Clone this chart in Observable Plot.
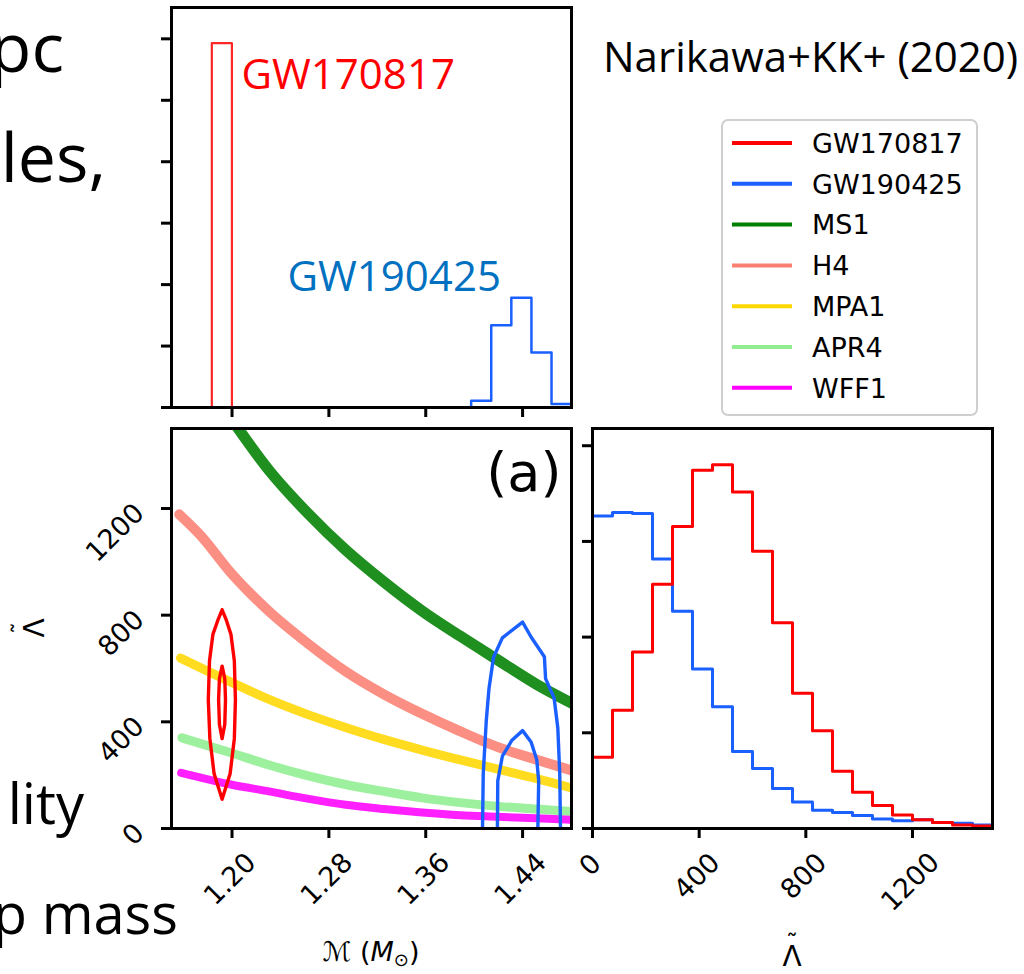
<!DOCTYPE html>
<html><head><meta charset="utf-8">
<script src="https://cdn.jsdelivr.net/npm/d3@7"></script>
<script src="https://cdn.jsdelivr.net/npm/@observablehq/plot@0.6"></script>
<style>
html,body{margin:0;padding:0;background:#fff;}
#root{position:relative;width:1024px;height:974px;overflow:hidden;background:#fff;}
#root svg{position:absolute;left:0;top:0;}
</style></head><body><div id="root"></div>
<script>
// ---------------- data ----------------
const mcTicks = [1.20, 1.28, 1.36, 1.44];
const lamTicks = [0, 400, 800, 1200];
const topCountTicks = [0, 1, 2, 3, 4, 5, 6];
const rightCountTicks = [0, 1, 2, 3, 4];

// chirp-mass histograms (top panel)
const mcEdgesGW170817 = [1.1833, 1.1999];
const mcCountsGW170817 = [5.93];
const mcEdgesGW190425 = [1.3975, 1.4141, 1.4307, 1.4473, 1.4639, 1.4805];
const mcCountsGW190425 = [0.11, 1.34, 1.785, 0.895, 0.055];

// Lambda-tilde histograms (right panel)
const lamEdges = [0, 75, 150, 225, 300, 375, 450, 525, 600, 675, 750, 825, 900, 975, 1050, 1125, 1200, 1275, 1350, 1425, 1500];
const lamCountsGW170817 = [0.745, 1.236, 1.845, 2.553, 3.155, 3.745, 3.801, 3.517, 2.897, 2.151, 1.413, 1.022, 0.598, 0.380, 0.240, 0.140, 0.092, 0.063, 0.037, 0.026];
const lamCountsGW190425 = [3.266, 3.303, 3.292, 2.815, 2.269, 1.668, 1.273, 0.804, 0.627, 0.417, 0.277, 0.192, 0.166, 0.137, 0.100, 0.081, 0.092, 0.063, 0.055, 0.037];

// EOS relations Lambda-tilde(Mc)
const ms1Mc  = [1.2035, 1.2306, 1.2622, 1.2938, 1.3254, 1.357, 1.3886, 1.4202, 1.4517, 1.4805];
const ms1Lam = [1510, 1343, 1184, 1045, 925, 816, 721, 630, 540, 470];
const h4Mc   = [1.1564, 1.1738, 1.199, 1.2306, 1.2622, 1.2938, 1.3254, 1.357, 1.3886, 1.4202, 1.4517, 1.4805];
const h4Lam  = [1178, 1100, 959, 814, 695, 589, 503, 430, 364, 304, 258, 218];
const mpa1Mc  = [1.1574, 1.199, 1.2306, 1.2622, 1.2938, 1.3254, 1.357, 1.3886, 1.4202, 1.4517, 1.4805];
const mpa1Lam = [639, 549, 484, 428, 379, 334, 294, 257, 222, 187, 152];
const apr4Mc  = [1.1586, 1.199, 1.2306, 1.2622, 1.2938, 1.3254, 1.357, 1.3886, 1.4202, 1.4517, 1.4805];
const apr4Lam = [340, 284, 238, 198, 165, 139, 115, 97, 83, 73, 64];
const wff1Mc  = [1.158, 1.199, 1.2306, 1.2622, 1.2938, 1.3254, 1.357, 1.3886, 1.4202, 1.4517, 1.4805];
const wff1Lam = [209, 165, 139, 112, 89, 73, 60, 50, 44, 38, 33];

// credible contours
const gw170817OuterMc  = [1.1918, 1.1953, 1.1991, 1.2019, 1.2028, 1.2019, 1.1984, 1.1918, 1.1852, 1.1817, 1.1804, 1.1814, 1.1842, 1.1883, 1.1918];
const gw170817OuterLam = [820, 781, 728, 629, 483, 337, 205, 110, 205, 337, 483, 629, 728, 781, 820];
const gw170817InnerMc  = [1.1918, 1.1940, 1.1946, 1.1940, 1.1918, 1.1896, 1.1889, 1.1896, 1.1918];
const gw170817InnerLam = [609, 562, 483, 390, 337, 390, 483, 562, 609];
const gw190425OuterMc  = [1.4069, 1.4075, 1.4100, 1.4122, 1.4160, 1.4233, 1.4400, 1.4470, 1.4580, 1.4590, 1.4660, 1.4691, 1.4707, 1.4713];
const gw190425OuterLam = [0, 205, 404, 523, 642, 715, 774, 718, 644, 562, 490, 377, 205, 0];
const gw190425InnerMc  = [1.4192, 1.4195, 1.4233, 1.4312, 1.4400, 1.4470, 1.4517, 1.4533, 1.4526];
const gw190425InnerLam = [0, 179, 271, 331, 367, 324, 258, 179, 0];

const legendNames = ["GW170817", "GW190425", "MS1", "H4", "MPA1", "APR4", "WFF1"];

// ---------------- styles ----------------
const colors = {GW170817: "#ff0000", GW190425: "#1a5fff", MS1: "#007f00", H4: "#fa8072", MPA1: "#ffd700", APR4: "#90ee90", WFF1: "#ff00ff"};
const W = 1024, H = 974;
const tickFont = "DejaVu Sans";
const fsTick = 27;

function steps(edges, vals) {
  const pts = [{x: edges[0], y: 0}];
  vals.forEach((v, i) => { pts.push({x: edges[i], y: v}); pts.push({x: edges[i + 1], y: v}); });
  pts.push({x: edges[edges.length - 1], y: 0});
  return pts;
}
function zip(xs, ys) { return xs.map((x, i) => ({x, y: ys[i]})); }

function xTickLabels(ticks, fmt) {
  return ticks.map(t => {
    const s = fmt(t);
    const w = [...s].reduce((a, c) => a + (c === "." ? 0.318 : 0.636), 0) * fsTick * 0.93;
    const h = 0.729 * fsTick;
    const half = (w + h) * 0.3536;
    return Plot.text([t], {x: d => d, frameAnchor: "bottom", dy: 24 + half, dx: -2, text: () => s,
      rotate: -45, textAnchor: "middle", lineAnchor: "middle", fontSize: fsTick, fontFamily: tickFont, fill: "black"});
  });
}

function panel(box, x, y, marks) {
  return Plot.plot({
    width: W, height: H,
    marginLeft: box[0], marginTop: box[1], marginRight: W - box[2], marginBottom: H - box[3],
    x, y,
    style: {background: "transparent", overflow: "visible"},
    marks
  });
}
const blank = () => "";

// ---------------- top panel: chirp mass histograms ----------------
const topPlot = panel([171, 7, 571, 407],
  {domain: [1.15, 1.4804]}, {domain: [0, 6.51]},
  [
    Plot.line(steps(mcEdgesGW170817, mcCountsGW170817), {x: "x", y: "y", stroke: colors.GW170817, strokeWidth: 2.2, strokeOpacity: 0.85, clip: true}),
    Plot.line(steps(mcEdgesGW190425, mcCountsGW190425), {x: "x", y: "y", stroke: colors.GW190425, strokeWidth: 2.5, clip: true}),
    Plot.text(["GW170817"], {frameAnchor: "top-left", dx: 70, dy: 81, text: d => d, fill: "#ff0000", fontSize: 42, fontFamily: "Open Sans", textAnchor: "start", lineAnchor: "bottom"}),
    Plot.text(["GW190425"], {frameAnchor: "top-left", dx: 116, dy: 283, text: d => d, fill: "#0070c0", fontSize: 42, fontFamily: "Open Sans", textAnchor: "start", lineAnchor: "bottom"}),
    Plot.axisX(mcTicks, {tickSize: 10, strokeWidth: 3, tickFormat: blank, label: null}),
    Plot.axisY(topCountTicks, {tickSize: 10, strokeWidth: 3, tickFormat: blank, label: null}),
    Plot.frame({stroke: "black", strokeWidth: 3})
  ]);

// ---------------- bottom-left: Lambda vs Mc ----------------
const eosSets = [["MS1", ms1Mc, ms1Lam, 11], ["H4", h4Mc, h4Lam, 10], ["MPA1", mpa1Mc, mpa1Lam, 9], ["APR4", apr4Mc, apr4Lam, 9], ["WFF1", wff1Mc, wff1Lam, 8]];
const contourSets = [
  ["GW170817", gw170817OuterMc, gw170817OuterLam], ["GW170817", gw170817InnerMc, gw170817InnerLam],
  ["GW190425", gw190425OuterMc, gw190425OuterLam], ["GW190425", gw190425InnerMc, gw190425InnerLam]
];
const blPlot = panel([171, 428, 571, 828],
  {domain: [1.15, 1.4804]}, {domain: [0, 1500]},
  [
    ...eosSets.map(([n, xs, ys, sw]) => Plot.line(zip(xs, ys), {x: "x", y: "y", stroke: colors[n], strokeWidth: sw, strokeOpacity: 0.88, curve: "monotone-x", clip: true})),
    ...contourSets.map(([n, xs, ys]) => Plot.line(zip(xs, ys), {x: "x", y: "y", stroke: colors[n], strokeWidth: 3.4, curve: "linear", clip: true})),
    Plot.text(["(a)"], {frameAnchor: "top-right", dx: -10, dy: 62, text: d => d, fontSize: 54, fontFamily: "DejaVu Sans", textAnchor: "end", lineAnchor: "bottom", fill: "black"}),
    Plot.axisX(mcTicks, {tickSize: 10, strokeWidth: 3, tickFormat: blank, label: null}),
    Plot.axisY(lamTicks, {tickSize: 10, strokeWidth: 3, tickFormat: blank, label: null}),
    ...xTickLabels(mcTicks, d => d.toFixed(2)),
    Plot.text(lamTicks, {y: d => d, frameAnchor: "left", dx: -32, text: d => String(d), rotate: -45, textAnchor: "end", lineAnchor: "middle", fontSize: fsTick, fontFamily: tickFont, fill: "black"}),
    Plot.frame({stroke: "black", strokeWidth: 3})
  ]);

// ---------------- bottom-right: Lambda histograms ----------------
const brPlot = panel([592, 428, 992, 828],
  {domain: [0, 1500]}, {domain: [0, 4.18]},
  [
    Plot.line(steps(lamEdges, lamCountsGW190425), {x: "x", y: "y", stroke: colors.GW190425, strokeWidth: 3, clip: true}),
    Plot.line(steps(lamEdges, lamCountsGW170817), {x: "x", y: "y", stroke: colors.GW170817, strokeWidth: 3, clip: true}),
    Plot.axisX(lamTicks, {tickSize: 10, strokeWidth: 3, tickFormat: blank, label: null}),
    Plot.axisY(rightCountTicks, {tickSize: 10, strokeWidth: 3, tickFormat: blank, label: null}),
    ...xTickLabels(lamTicks, d => String(d)),
    Plot.frame({stroke: "black", strokeWidth: 3})
  ]);

const root = document.getElementById("root");
root.append(blPlot, brPlot, topPlot);

// ---------------- overlay: slide text, title, legend, axis labels ----------------
const ov = d3.select(root).append("svg").attr("width", W).attr("height", H).attr("viewBox", `0 0 ${W} ${H}`);
const slide = [["pc", 64, 72, 68], ["les,", 106, 182, 68], ["lity", 84, 824, 56], ["p mass", 178, 934, 56]];
slide.forEach(([t, x, y, fs]) => ov.append("text").attr("x", x).attr("y", y).attr("text-anchor", "end")
  .attr("font-family", "Open Sans").attr("font-size", fs).attr("fill", "black").text(t));
ov.append("text").attr("x", 603).attr("y", 72).attr("font-family", "Open Sans").attr("font-size", 42).attr("fill", "black").text("Narikawa+KK+ (2020)");

const lg = ov.append("g");
lg.append("rect").attr("x", 722).attr("y", 120).attr("width", 255).attr("height", 295).attr("rx", 6)
  .attr("fill", "white").attr("stroke", "#cfcfcf").attr("stroke-width", 2);
legendNames.forEach((n, i) => {
  const yy = 143 + i * 40.8;
  lg.append("line").attr("x1", 732).attr("x2", 792).attr("y1", yy).attr("y2", yy).attr("stroke", colors[n]).attr("stroke-width", 4);
  lg.append("text").attr("x", 812).attr("y", yy).attr("dy", "0.36em").attr("font-family", "DejaVu Sans").attr("font-size", 27).attr("fill", "black").text(n);
});

// axis labels
const mx = ov.append("text").attr("x", 371).attr("y", 961).attr("text-anchor", "middle").attr("font-family", "DejaVu Sans").attr("font-size", 27).attr("fill", "black");
mx.append("tspan").text("ℳ (");
mx.append("tspan").attr("font-style", "italic").text("M");
mx.append("tspan").attr("font-size", 18).attr("dy", 5).text("⊙");
mx.append("tspan").attr("dy", -5).text(")");

function lambdaTilde(transform) {
  const t = ov.append("text").attr("transform", transform).attr("x", -9.6).attr("y", 0)
    .attr("font-family", "DejaVu Sans").attr("font-size", 28).attr("fill", "black");
  t.append("tspan").text("Λ");
  t.append("tspan").attr("font-size", 24).attr("dx", -15.6).attr("dy", -14).text("˜");
}
lambdaTilde("translate(792,966)");
lambdaTilde("translate(44,628) rotate(-90)");
</script></body></html>
